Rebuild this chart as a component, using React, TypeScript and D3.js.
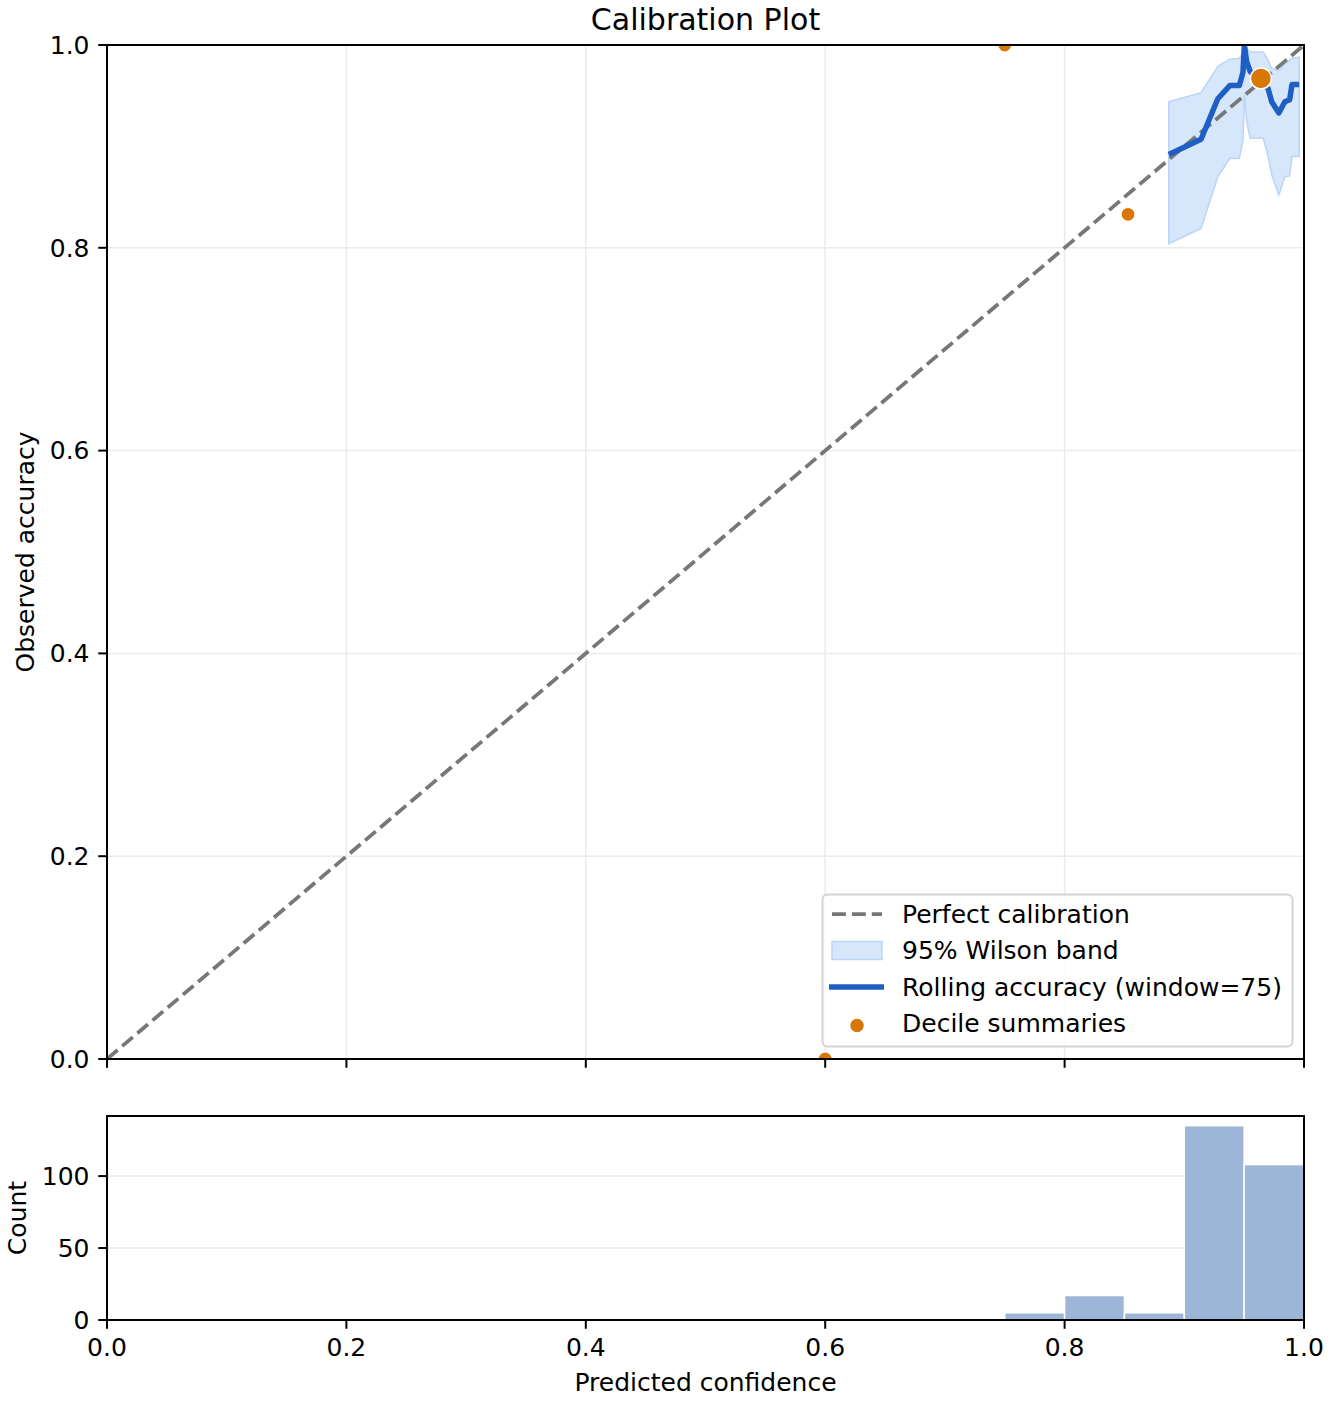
import React, { useEffect, useRef } from 'react';
import * as d3 from 'd3';

// Rolling accuracy (window=75) with Wilson band
const rollX = [0.887, 0.914, 0.928, 0.938, 0.946, 0.949, 0.9502, 0.952, 0.955, 0.966, 0.970, 0.973, 0.979, 0.984, 0.988, 0.990, 0.996];
const rollAcc = [0.892, 0.907, 0.947, 0.960, 0.960, 0.973, 1.0, 0.984, 0.974, 0.962, 0.957, 0.944, 0.933, 0.944, 0.946, 0.961, 0.961];
const bandLow = [0.804, 0.819, 0.870, 0.888, 0.888, 0.906, 0.951, 0.925, 0.908, 0.908, 0.890, 0.872, 0.852, 0.870, 0.871, 0.890, 0.890];
const bandHigh = [0.944, 0.953, 0.979, 0.986, 0.987, 0.992, 1.0, 0.997, 0.993, 0.993, 0.985, 0.977, 0.975, 0.981, 0.985, 0.987, 0.988];

// Decile summaries
const decileX = [0.600, 0.750, 0.853, 0.964];
const decileY = [0.0, 1.0, 0.833, 0.967];
const decileCount = [12, 12, 12, 26];

// Histogram of predicted confidence (20 bins over [0, 1])
const histStart = [0.75, 0.80, 0.85, 0.90, 0.95];
const histCount = [5, 17, 5, 135, 108];
const binWidth = 0.05;

const xTicks = [0, 0.2, 0.4, 0.6, 0.8, 1.0];
const yTicks = [0, 0.2, 0.4, 0.6, 0.8, 1.0];
const countTicks = [0, 50, 100];

const legendLabels = ['Perfect calibration', '95% Wilson band', 'Rolling accuracy (window=75)', 'Decile summaries'];

const W = 1332;
const H = 1404;
const FONT = '"DejaVu Sans", sans-serif';
const BLUE = '#1f5ec4';
const ORANGE = '#d97706';
const BAND_FILL = '#d6e6fb';
const BAND_EDGE = '#bcd5f6';
const GRID = '#ebebeb';

const App: React.FC = () => {
  const svgRef = useRef<SVGSVGElement>(null);

  useEffect(() => {
    document.body.style.margin = '0';
    const svg = d3.select(svgRef.current);
    svg.selectAll('*').remove();

    const left = 107, right = 1304;
    const mainTop = 45, mainBottom = 1059;
    const histTop = 1116, histBottom = 1320;

    const x = d3.scaleLinear().domain([0, 1]).range([left, right]);
    const y = d3.scaleLinear().domain([0, 1]).range([mainBottom, mainTop]);
    const yc = d3.scaleLinear().domain([0, d3.max(histCount)! * 1.05]).range([histBottom, histTop]);
    const rScale = d3.scaleSqrt().domain([0, d3.max(decileCount)!]).range([0, 10.5]);

    svg.append('rect').attr('width', W).attr('height', H).attr('fill', '#fff');

    svg.append('defs').append('clipPath').attr('id', 'main-clip')
      .append('rect')
      .attr('x', left).attr('y', mainTop)
      .attr('width', right - left).attr('height', mainBottom - mainTop);

    // title
    svg.append('text')
      .attr('x', (left + right) / 2).attr('y', 30)
      .attr('text-anchor', 'middle')
      .style('font-family', FONT).style('font-size', '30px').style('fill', '#000')
      .text('Calibration Plot');

    // main grid
    const main = svg.append('g');
    xTicks.slice(1, -1).forEach(t => {
      main.append('line')
        .attr('x1', x(t)).attr('x2', x(t)).attr('y1', mainTop).attr('y2', mainBottom)
        .attr('stroke', GRID).attr('stroke-width', 1.5);
    });
    yTicks.slice(1, -1).forEach(t => {
      main.append('line')
        .attr('x1', left).attr('x2', right).attr('y1', y(t)).attr('y2', y(t))
        .attr('stroke', GRID).attr('stroke-width', 1.5);
    });

    const plot = main.append('g').attr('clip-path', 'url(#main-clip)');

    // Wilson band
    const band = d3.area<number>()
      .x((_, i) => x(rollX[i]))
      .y0((_, i) => y(bandLow[i]))
      .y1((_, i) => y(bandHigh[i]));
    plot.append('path')
      .datum(rollX)
      .attr('d', band)
      .attr('fill', BAND_FILL)
      .attr('stroke', BAND_EDGE)
      .attr('stroke-width', 1.5);

    // perfect calibration
    plot.append('line')
      .attr('x1', x(0)).attr('y1', y(0)).attr('x2', x(1)).attr('y2', y(1))
      .attr('stroke', '#777')
      .attr('stroke-width', 3.75)
      .attr('stroke-dasharray', '13.9 6');

    // rolling accuracy
    const line = d3.line<number>()
      .x((_, i) => x(rollX[i]))
      .y((_, i) => y(rollAcc[i]));
    plot.append('path')
      .datum(rollX)
      .attr('d', line)
      .attr('fill', 'none')
      .attr('stroke', BLUE)
      .attr('stroke-width', 5.5)
      .attr('stroke-linejoin', 'round');

    // decile points
    plot.selectAll('.decile')
      .data(decileX)
      .enter()
      .append('circle')
      .attr('class', 'decile')
      .attr('cx', d => x(d))
      .attr('cy', (_, i) => y(decileY[i]))
      .attr('r', (_, i) => rScale(decileCount[i]))
      .attr('fill', ORANGE)
      .attr('stroke', '#fff')
      .attr('stroke-width', 1.5);

    // main spines
    main.append('rect')
      .attr('x', left).attr('y', mainTop)
      .attr('width', right - left).attr('height', mainBottom - mainTop)
      .attr('fill', 'none').attr('stroke', '#000').attr('stroke-width', 2);

    // main ticks
    xTicks.forEach(t => {
      main.append('line')
        .attr('x1', x(t)).attr('x2', x(t)).attr('y1', mainBottom).attr('y2', mainBottom + 8.75)
        .attr('stroke', '#000').attr('stroke-width', 2);
    });
    yTicks.forEach(t => {
      main.append('line')
        .attr('x1', left - 8.75).attr('x2', left).attr('y1', y(t)).attr('y2', y(t))
        .attr('stroke', '#000').attr('stroke-width', 2);
      main.append('text')
        .attr('x', left - 17.5).attr('y', y(t)).attr('dy', '0.35em')
        .attr('text-anchor', 'end')
        .style('font-family', FONT).style('font-size', '25px').style('fill', '#000')
        .text(d3.format('.1f')(t));
    });

    svg.append('text')
      .attr('transform', `translate(34,${(mainTop + mainBottom) / 2}) rotate(-90)`)
      .attr('text-anchor', 'middle')
      .style('font-family', FONT).style('font-size', '25px').style('fill', '#000')
      .text('Observed accuracy');

    // legend
    const lg = svg.append('g');
    lg.append('rect')
      .attr('x', 822.5).attr('y', 894.5).attr('width', 470).attr('height', 152)
      .attr('rx', 5).attr('ry', 5)
      .attr('fill', 'rgba(255,255,255,0.8)').attr('stroke', '#d4d4d4').attr('stroke-width', 2);
    const rowY = [914, 950.5, 987, 1023.5];
    const hx0 = 832, hx1 = 882;
    lg.append('line')
      .attr('x1', hx0).attr('x2', hx1).attr('y1', rowY[0]).attr('y2', rowY[0])
      .attr('stroke', '#777').attr('stroke-width', 3.75).attr('stroke-dasharray', '13.9 6');
    lg.append('rect')
      .attr('x', hx0).attr('y', rowY[1] - 9).attr('width', hx1 - hx0).attr('height', 18)
      .attr('fill', BAND_FILL).attr('stroke', BAND_EDGE).attr('stroke-width', 1.5);
    lg.append('line')
      .attr('x1', hx0 - 3).attr('x2', hx1 + 2).attr('y1', rowY[2]).attr('y2', rowY[2])
      .attr('stroke', BLUE).attr('stroke-width', 5.5);
    lg.append('circle')
      .attr('cx', 857).attr('cy', rowY[3] + 2).attr('r', 7.5)
      .attr('fill', ORANGE).attr('stroke', '#fff').attr('stroke-width', 1.5);
    legendLabels.forEach((l, i) => {
      lg.append('text')
        .attr('x', 902).attr('y', rowY[i]).attr('dy', '0.35em')
        .style('font-family', FONT).style('font-size', '25px').style('fill', '#000')
        .text(l);
    });

    // histogram
    const hist = svg.append('g');
    countTicks.slice(1).forEach(t => {
      hist.append('line')
        .attr('x1', left).attr('x2', right).attr('y1', yc(t)).attr('y2', yc(t))
        .attr('stroke', GRID).attr('stroke-width', 1.5);
    });
    hist.selectAll('.bar')
      .data(histStart)
      .enter()
      .append('rect')
      .attr('class', 'bar')
      .attr('x', d => x(d))
      .attr('width', x(binWidth) - x(0))
      .attr('y', (_, i) => yc(histCount[i]))
      .attr('height', (_, i) => yc(0) - yc(histCount[i]))
      .attr('fill', '#9db5d6')
      .attr('stroke', '#fff')
      .attr('stroke-width', 1.5);
    hist.append('rect')
      .attr('x', left).attr('y', histTop)
      .attr('width', right - left).attr('height', histBottom - histTop)
      .attr('fill', 'none').attr('stroke', '#000').attr('stroke-width', 2);
    xTicks.forEach(t => {
      hist.append('line')
        .attr('x1', x(t)).attr('x2', x(t)).attr('y1', histBottom).attr('y2', histBottom + 8.75)
        .attr('stroke', '#000').attr('stroke-width', 2);
      hist.append('text')
        .attr('x', x(t)).attr('y', histBottom + 36)
        .attr('text-anchor', 'middle')
        .style('font-family', FONT).style('font-size', '25px').style('fill', '#000')
        .text(d3.format('.1f')(t));
    });
    countTicks.forEach(t => {
      hist.append('line')
        .attr('x1', left - 8.75).attr('x2', left).attr('y1', yc(t)).attr('y2', yc(t))
        .attr('stroke', '#000').attr('stroke-width', 2);
      hist.append('text')
        .attr('x', left - 17.5).attr('y', yc(t)).attr('dy', '0.35em')
        .attr('text-anchor', 'end')
        .style('font-family', FONT).style('font-size', '25px').style('fill', '#000')
        .text(String(t));
    });
    svg.append('text')
      .attr('transform', `translate(26,${(histTop + histBottom) / 2}) rotate(-90)`)
      .attr('text-anchor', 'middle')
      .style('font-family', FONT).style('font-size', '25px').style('fill', '#000')
      .text('Count');
    svg.append('text')
      .attr('x', (left + right) / 2).attr('y', 1391)
      .attr('text-anchor', 'middle')
      .style('font-family', FONT).style('font-size', '25px').style('fill', '#000')
      .text('Predicted confidence');
  }, []);

  return <svg ref={svgRef} width={W} height={H} style={{ display: 'block' }} />;
};

export default App;
